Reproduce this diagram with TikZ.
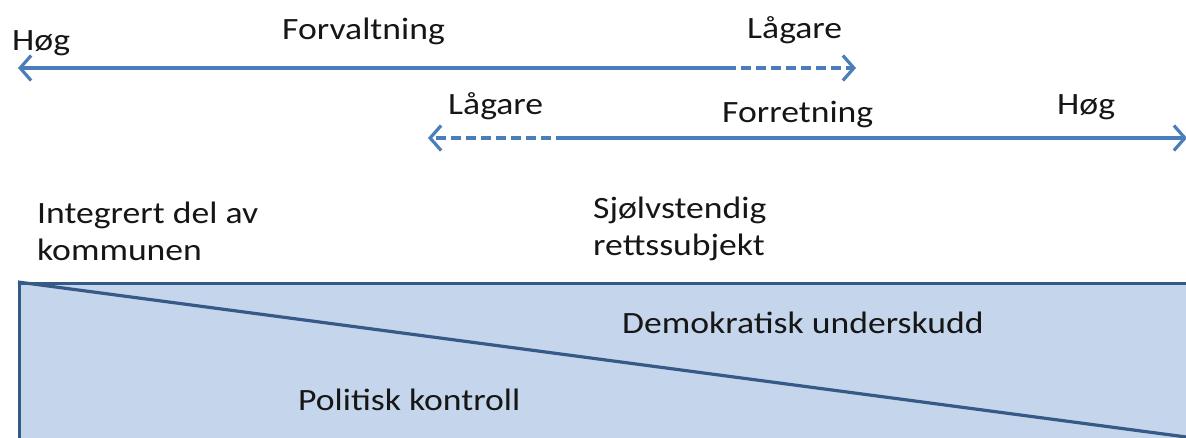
\documentclass[tikz,border=0pt]{standalone}
\usepackage{fontspec}
\setmainfont{Carlito}[FakeStretch=1.15]
\usetikzlibrary{arrows.meta}
\definecolor{arrowblue}{HTML}{4A7EBB}
\definecolor{boxfill}{HTML}{C5D5EB}
\definecolor{boxline}{HTML}{365A88}
\definecolor{txt}{HTML}{161616}
\tikzset{
  lbl/.style={inner sep=0pt, anchor=base west, text=txt, font=\fontsize{31}{37}\selectfont, align=left},
  arr/.style={draw=arrowblue, line width=3.2pt, -{Straight Barb[length=11pt,width=25pt]}},
  arrd/.style={arr, dash pattern=on 10pt off 5pt},
}
\begin{document}
\begin{tikzpicture}[x=1pt,y=-1pt]
\useasboundingbox (0,0) rectangle (1186,437);
\begin{scope}
\clip (0,0) rectangle (1186,437);
% rectangle with diagonal
\node[draw=boxline, fill=boxfill, line width=3.2pt, minimum width=1220pt, minimum height=200pt, anchor=north west, inner sep=0pt] (box) at (18,282) {};
\coordinate (diagEnd) at (1190,437.5);
\draw[boxline, line width=3.2pt] (box.north west) -- (diagEnd);
% top arrow
\coordinate (a1L) at (18,68);
\coordinate (a1M) at (726,68);
\coordinate (a1R) at (856,68);
\draw[arr] (a1M) -- (a1L);
\draw[arrd] (a1M) -- (a1R);
% second arrow
\coordinate (a2L) at (428,138);
\coordinate (a2M) at (566,138);
\coordinate (a2R) at (1187,138);
\draw[arrd] (a2M) -- (a2L);
\draw[arr] (a2M) -- (a2R);
\end{scope}
% labels
\node[lbl] (hog1) at (12,50) {Høg};
\node[lbl] (forv) at (282,39) {Forvaltning};
\node[lbl] (lag1) at (747,38) {Lågare};
\node[lbl] (lag2) at (448,114) {Lågare};
\node[lbl] (forr) at (722,122) {Forretning};
\node[lbl] (hog2) at (1057,114) {Høg};
\node[lbl] (integ) at (37,260) {Integrert del av\\kommunen};
\node[lbl] (sjolv) at (593,255) {Sjølvstendig\\rettssubjekt};
\node[lbl] (demo) at (622,333) {Demokratisk underskudd};
\node[lbl] (pol) at (298,410) {Politisk kontroll};
\end{tikzpicture}
\end{document}
